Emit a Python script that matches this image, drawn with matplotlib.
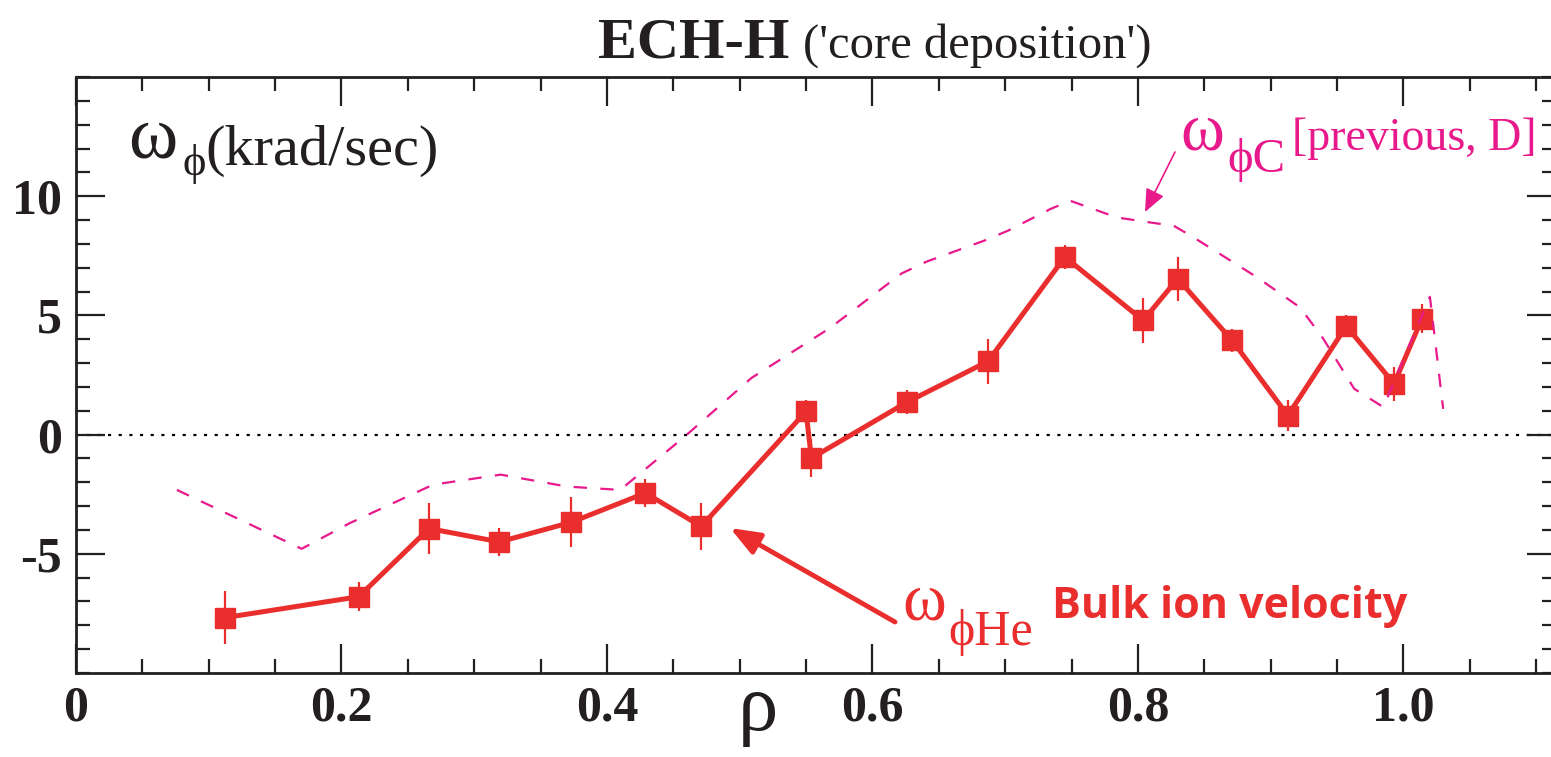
import matplotlib
matplotlib.use("Agg")
import matplotlib.pyplot as plt
from matplotlib.ticker import MultipleLocator, FixedLocator

# ---- data ----
rho_he = [0.112, 0.213, 0.266, 0.319, 0.373, 0.429, 0.471, 0.550, 0.554, 0.626,
          0.687, 0.745, 0.804, 0.830, 0.871, 0.913, 0.957, 0.993, 1.014]
w_he = [-7.68, -6.80, -3.94, -4.50, -3.68, -2.45, -3.85, 0.97, -0.99, 1.36,
        3.07, 7.45, 4.79, 6.54, 3.95, 0.80, 4.55, 2.13, 4.86]
w_he_err = [1.1, 0.6, 1.05, 0.6, 1.05, 0.58, 1.0, 0.5, 0.8, 0.5,
            0.95, 0.5, 0.93, 0.92, 0.5, 0.65, 0.45, 0.7, 0.6]

rho_c = [0.076, 0.170, 0.206, 0.269, 0.320, 0.370, 0.410, 0.458, 0.509, 0.568,
         0.622, 0.641, 0.684, 0.702, 0.734, 0.749, 0.784, 0.809, 0.827, 0.842,
         0.890, 0.922, 0.939, 0.963, 0.985, 1.020, 1.030]
w_c = [-2.32, -4.79, -3.72, -2.10, -1.68, -2.18, -2.32, -0.11, 2.38, 4.47,
       6.76, 7.26, 8.13, 8.55, 9.46, 9.81, 9.11, 8.90, 8.76, 8.27,
       6.59, 5.34, 4.08, 1.92, 1.15, 5.78, 1.08]

x_ticks = [0, 0.2, 0.4, 0.6, 0.8, 1.0]
x_ticklabels = ["0", "0.2", "0.4", "0.6", "0.8", "1.0"]
y_ticks = [-5, 0, 5, 10]
y_ticklabels = ["-5", "0", "5", "10"]

RED = "#EA2E2E"
PINK = "#E8198B"
INK = "#231f20"
SERIF = ["Liberation Serif", "DejaVu Serif"]

W, H = 1551, 757
fig = plt.figure(figsize=(W / 100, H / 100), dpi=100)

def P(px, py):
    return px / W, 1 - py / H

L, R, T, B = 76, 1556, 77, 673
ax = fig.add_axes([L / W, 1 - B / H, (R - L) / W, (B - T) / H])
ax.set_xlim(0, 1.115)
ax.set_ylim(-10, 15)

ax.axhline(0, color="black", lw=1.6, ls=(0, (1.4, 3.4)), zorder=1)

ax.errorbar(rho_he, w_he, yerr=w_he_err, color=RED, lw=3.6, marker="s",
            markersize=14.5, mfc=RED, mec=RED, ecolor=RED, elinewidth=1.6,
            capsize=0, zorder=3)
ax.plot(rho_c, w_c, color=PINK, lw=1.6, ls=(0, (6, 6)), zorder=4)

for s in ax.spines.values():
    s.set_linewidth(2.0)
    s.set_color(INK)

ax.xaxis.set_major_locator(FixedLocator(x_ticks))
ax.xaxis.set_minor_locator(MultipleLocator(0.05))
ax.yaxis.set_major_locator(FixedLocator(y_ticks))
ax.yaxis.set_minor_locator(MultipleLocator(1))
ax.set_xticklabels(x_ticklabels)
ax.set_yticklabels(y_ticklabels)
ax.tick_params(which="both", direction="in", top=True, right=True,
               width=1.6, color=INK)
ax.tick_params(which="major", length=21)
ax.tick_params(which="minor", length=10)
ax.tick_params(axis="x", which="major", pad=9)
ax.tick_params(axis="y", which="major", pad=10)
for lab in ax.get_xticklabels() + ax.get_yticklabels():
    lab.set_fontfamily(SERIF)
    lab.set_fontweight("bold")
    lab.set_fontsize(36)
    lab.set_color(INK)

# x label
fig.text(*P(758, 730), "ρ", fontfamily=SERIF, fontsize=58, ha="center",
         va="baseline", color=INK)

# title
fig.text(*P(598, 58), "ECH-H", fontfamily=SERIF, fontweight="bold",
         fontsize=42, ha="left", va="baseline", color=INK)
fig.text(*P(803, 58), "('core deposition')", fontfamily=SERIF,
         fontsize=35, ha="left", va="baseline", color=INK)

# y label inside axes
fig.text(*P(128, 157), "ω", fontfamily=SERIF, fontsize=54, ha="left",
         va="baseline", color=INK)
fig.text(*P(182, 175), "ϕ", fontfamily=SERIF, fontsize=32, ha="left",
         va="baseline", color=INK)
fig.text(*P(205, 165), "(krad/sec)", fontfamily=SERIF, fontsize=42,
         ha="left", va="baseline", color=INK)

# pink label
fig.text(*P(1180, 150), "ω", fontfamily=SERIF, fontsize=48, ha="left",
         va="baseline", color=PINK)
fig.text(*P(1227, 172), "ϕC", fontfamily=SERIF, fontsize=35, ha="left",
         va="baseline", color=PINK)
fig.text(*P(1292, 150), "[previous, D]", fontfamily=SERIF, fontsize=33,
         ha="left", va="baseline", color=PINK)
fig.add_artist(matplotlib.patches.FancyArrowPatch(
    P(1175, 152), P(1145, 212), transform=fig.transFigure,
    arrowstyle="-|>,head_length=14,head_width=6", color=PINK, lw=1.2,
    shrinkA=0, shrinkB=0, mutation_scale=1))

# red label
fig.text(*P(902, 620), "ω", fontfamily=SERIF, fontsize=48, ha="left",
         va="baseline", color=RED)
fig.text(*P(948, 645), "ϕHe", fontfamily=SERIF, fontsize=36, ha="left",
         va="baseline", color=RED)
fig.text(*P(1052, 618), "Bulk ion velocity", fontfamily="Open Sans",
         fontweight="bold", fontsize=31, ha="left", va="baseline", color=RED)
fig.add_artist(matplotlib.patches.FancyArrowPatch(
    P(895, 622), P(730, 528), transform=fig.transFigure,
    arrowstyle="-|>,head_length=18,head_width=7", color=RED, lw=3.5,
    shrinkA=0, shrinkB=0, mutation_scale=1))

fig.savefig("out.png", dpi=100)
